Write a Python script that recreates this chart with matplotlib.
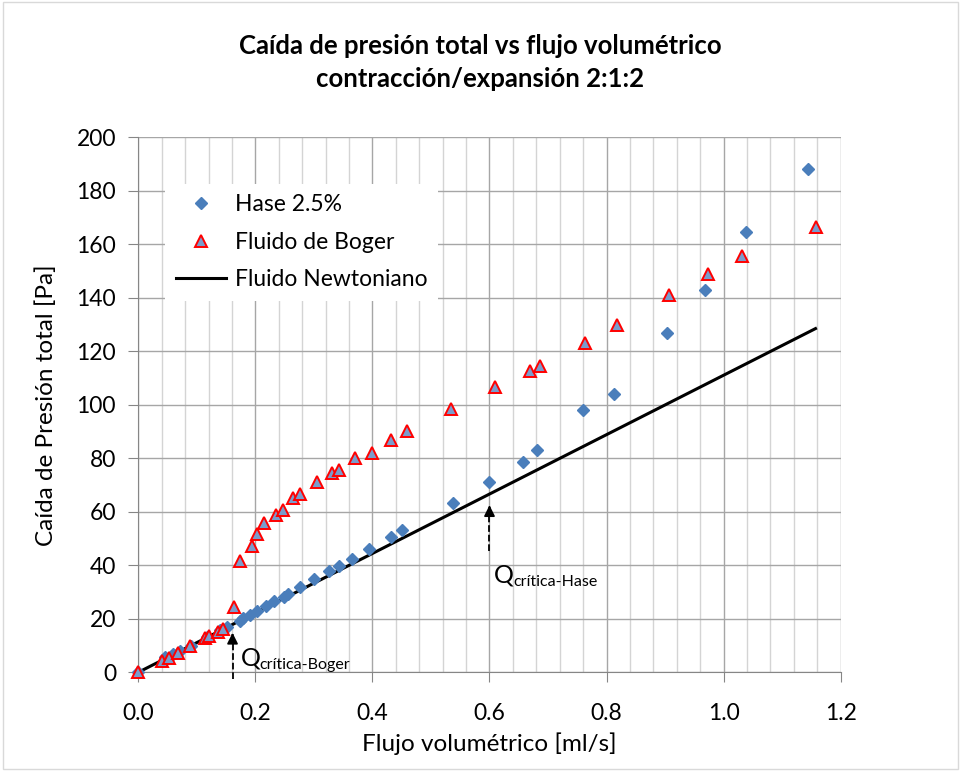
import matplotlib
matplotlib.use("Agg")
import matplotlib.pyplot as plt
from matplotlib.ticker import MultipleLocator
from matplotlib.patches import Rectangle

# ---- data ----
hase_x = [0.0, 0.046, 0.059, 0.072, 0.090, 0.118, 0.140, 0.151, 0.174, 0.179, 0.190,
          0.203, 0.218, 0.232, 0.249, 0.255, 0.276, 0.301, 0.325, 0.343, 0.365,
          0.395, 0.432, 0.450, 0.537, 0.600, 0.658, 0.682, 0.760, 0.812, 0.903,
          0.968, 1.038, 1.145]
hase_y = [0.0, 5.8, 6.8, 8.1, 10.0, 13.3, 15.8, 17.0, 19.3, 20.2, 21.4,
          22.9, 24.8, 26.7, 28.3, 29.2, 31.8, 34.8, 37.9, 39.7, 42.5,
          46.1, 50.6, 53.2, 63.3, 71.3, 78.5, 83.1, 98.1, 104.0, 127.0,
          142.8, 164.7, 188.1]

boger_x = [0.0, 0.040, 0.053, 0.068, 0.088, 0.114, 0.120, 0.137, 0.145, 0.164,
           0.174, 0.194, 0.202, 0.214, 0.236, 0.247, 0.265, 0.276, 0.305, 0.331,
           0.343, 0.371, 0.399, 0.431, 0.459, 0.535, 0.609, 0.669, 0.686, 0.764,
           0.818, 0.907, 0.974, 1.032, 1.157]
boger_y = [0.0, 4.2, 5.2, 7.3, 9.9, 12.7, 13.7, 15.2, 16.2, 24.5,
           41.7, 47.3, 51.7, 55.7, 58.8, 60.7, 65.0, 66.7, 71.1, 74.6,
           75.6, 80.2, 81.9, 86.8, 90.2, 98.4, 106.5, 112.6, 114.5, 123.0,
           129.8, 141.2, 148.8, 155.6, 166.6]

newton_x = [0.0, 1.157]
newton_y = [0.0, 128.5]

# critical flow annotations: x, arrow tip y, dashed tail y, label position
q_boger = dict(x=0.161, tip=15.8, tail=-2.5, lx=0.175, ly=2.7, sub="crítica-Boger")
q_hase = dict(x=0.600, tip=63.5, tail=45.5, lx=0.608, ly=33.5, sub="crítica-Hase")

x_ticks = [0.0, 0.2, 0.4, 0.6, 0.8, 1.0, 1.2]
y_ticks = [0, 20, 40, 60, 80, 100, 120, 140, 160, 180, 200]

title = "Caída de presión total vs flujo volumétrico\ncontracción/expansión 2:1:2"
xlabel = "Flujo volumétrico [ml/s]"
ylabel = "Caída de Presión total [Pa]"

plt.rcParams['font.family'] = ['Lato', 'DejaVu Sans']

fig = plt.figure(figsize=(9.61, 7.71), dpi=100)
ax = fig.add_axes([0.1439, 0.128, 0.7309, 0.6939])

ax.set_xlim(0, 1.2)
ax.set_ylim(0, 200)
ax.set_xticks(x_ticks)
ax.set_xticklabels([f"{v:.1f}" for v in x_ticks])
ax.set_yticks(y_ticks)
ax.xaxis.set_minor_locator(MultipleLocator(0.04))
ax.grid(which='major', color='#a6a6a6', lw=1.0, zorder=0)
ax.grid(which='minor', axis='x', color='#d4d4d4', lw=1.0, zorder=0)
ax.tick_params(which='major', labelsize=16.5, length=7, color='#868686')
ax.tick_params(axis='x', which='major', pad=15)
ax.tick_params(axis='y', which='major', pad=9)
ax.tick_params(which='minor', length=0)
for s in ['top', 'right']:
    ax.spines[s].set_visible(False)
for s in ['left', 'bottom']:
    ax.spines[s].set_color('#868686')
ax.set_axisbelow(True)

ax.plot(newton_x, newton_y, color='black', lw=2.2, label='Fluido Newtoniano', zorder=2)
ax.plot(hase_x, hase_y, ls='none', marker='D', ms=6.5, mfc='#4a7ebb', mec='#4a7ebb',
        label='Hase 2.5%', zorder=3, clip_on=False)
ax.plot(boger_x, boger_y, ls='none', marker='^', ms=8, mfc='#7a9ccc', mec='#ff0000',
        mew=1.4, label='Fluido de Boger', zorder=4, clip_on=False)

for q in (q_boger, q_hase):
    ax.plot([q['x'], q['x']], [q['tail'], q['tip'] - 3], ls='--', color='black', lw=1.3,
            clip_on=False, zorder=5)
    ax.annotate('', xy=(q['x'], q['tip']), xytext=(q['x'], q['tip'] - 3.5),
                arrowprops=dict(arrowstyle='-|>', color='black', lw=1.3, mutation_scale=16),
                zorder=5)
    ax.text(q['lx'], q['ly'], "Q", fontsize=18, ha='left', va='baseline', zorder=6)
    ax.annotate(q['sub'], xy=(q['lx'], q['ly']), xytext=(13.5, -2.5),
                textcoords='offset points', fontsize=11.5, ha='left', va='baseline',
                zorder=6)

handles, labels = ax.get_legend_handles_labels()
order = [1, 2, 0]
leg = ax.legend([handles[i] for i in order], [labels[i] for i in order],
                loc='upper left', bbox_to_anchor=(0.160, 0.776), bbox_transform=fig.transFigure,
                fontsize=16.5, frameon=True, facecolor='white', edgecolor='none',
                framealpha=1.0, fancybox=False, handlelength=2.2, numpoints=1,
                labelspacing=0.72, borderpad=0.45, handletextpad=0.4)

ax.set_xlabel(xlabel, fontsize=17.5, labelpad=6)
ax.set_ylabel(ylabel, fontsize=17.5, labelpad=14)
fig.text(0.5, 0.919, title, ha='center', va='center', fontsize=18.5, fontweight='bold',
         linespacing=1.45)

fig.patches.append(Rectangle((0.003, 0.003), 0.994, 0.994, transform=fig.transFigure,
                             fill=False, ec='#d9d9d9', lw=1.0))

fig.savefig('out.png', dpi=100)
